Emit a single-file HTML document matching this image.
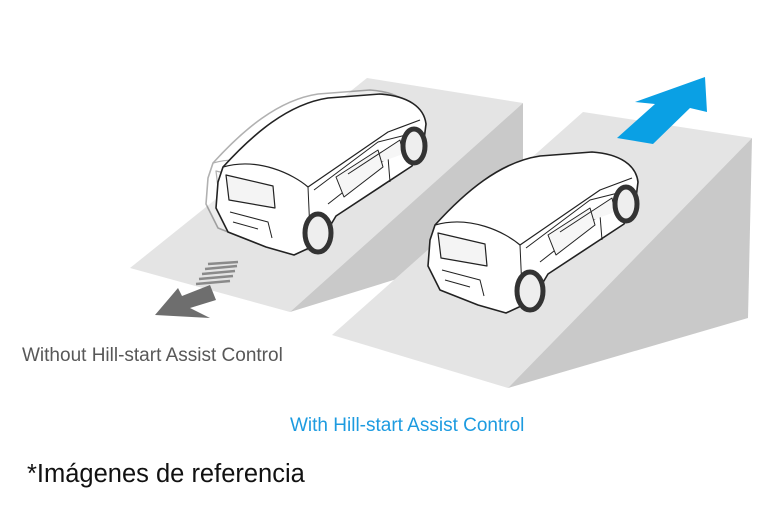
<!DOCTYPE html>
<html><head><meta charset="utf-8"><style>
html,body{margin:0;padding:0;background:#fff;}
body{width:768px;height:512px;position:relative;overflow:hidden;font-family:"Liberation Sans",sans-serif;}
.t{position:absolute;white-space:nowrap;line-height:1;}
</style></head><body>
<svg width="768" height="512" style="position:absolute;left:0;top:0">
<defs>
<g id="car" fill="#fff" stroke="#222" stroke-width="1.6" stroke-linejoin="round">
  <path d="M435,225 C465,192 500,162 540,156 L592,152 C620,154 636,165 638,182 L636,198 L624,224 L548,274 L532,301 L506,313 L478,305 L440,290 L428,266 L430,240 Z"/>
  <path d="M435,225 C470,215 505,232 520,245 L600,190 L632,178" fill="none" stroke-width="1.2"/>
  <path d="M438,233 L485,244 L487,266 L441,258 Z" fill="#f4f4f4" stroke-width="1.2"/>
  <path d="M520,245 L522,290 M526,248 L590,200 L622,192 M540,262 L600,215 L602,240" fill="none" stroke-width="1"/>
  <path d="M548,235 L590,208 L595,225 L556,255 Z M560,232 L612,198 L615,212" fill="#f6f6f6" stroke-width="1"/>
  <path d="M442,270 L480,280 L484,296 M445,280 L470,287" fill="none" stroke-width="1"/>
  <ellipse cx="626" cy="204" rx="11" ry="17" fill="#eee" stroke-width="5" stroke="#333"/>
  <ellipse cx="530" cy="291" rx="13" ry="19" fill="#eee" stroke-width="5" stroke="#333"/>
</g>
</defs>
<polygon points="367,78 523,103 290,312 130,268" fill="#e4e4e4"/>
<polygon points="523,103 523,240 290,312" fill="#c9c9c9"/>
<polygon points="155,315 178,288 182,296 210,285 216,300 190,308 210,318" fill="#6e6e6e"/>
<g stroke="#8a8a8a" stroke-width="2.4">
<line x1="196" y1="284" x2="230" y2="281"/><line x1="199" y1="279" x2="233" y2="276"/><line x1="202" y1="274" x2="235" y2="271"/><line x1="205" y1="269" x2="237" y2="266"/><line x1="208" y1="264" x2="238" y2="262"/>
</g>
<polygon points="583,112 752,138 508,388 332,335" fill="#e4e4e4"/>
<polygon points="752,138 748,318 508,388" fill="#c9c9c9"/>
<polygon points="705,77 707,112 690,108 653,144 617,138 655,104 635,102" fill="#0aa0e4"/>
<g transform="translate(-222,-62)" opacity="0.35"><use href="#car"/></g>
<g transform="translate(-212,-58)"><use href="#car"/></g>
<use href="#car"/>
</svg>
<div class="t" style="left:22px;top:346px;font-size:19px;color:#585858">Without Hill-start Assist Control</div>
<div class="t" style="left:290px;top:416px;font-size:19px;color:#1d9be0">With Hill-start Assist Control</div>
<div class="t" style="left:27px;top:462px;font-size:25.5px;color:#111">*Imágenes de referencia</div>
</body></html>
